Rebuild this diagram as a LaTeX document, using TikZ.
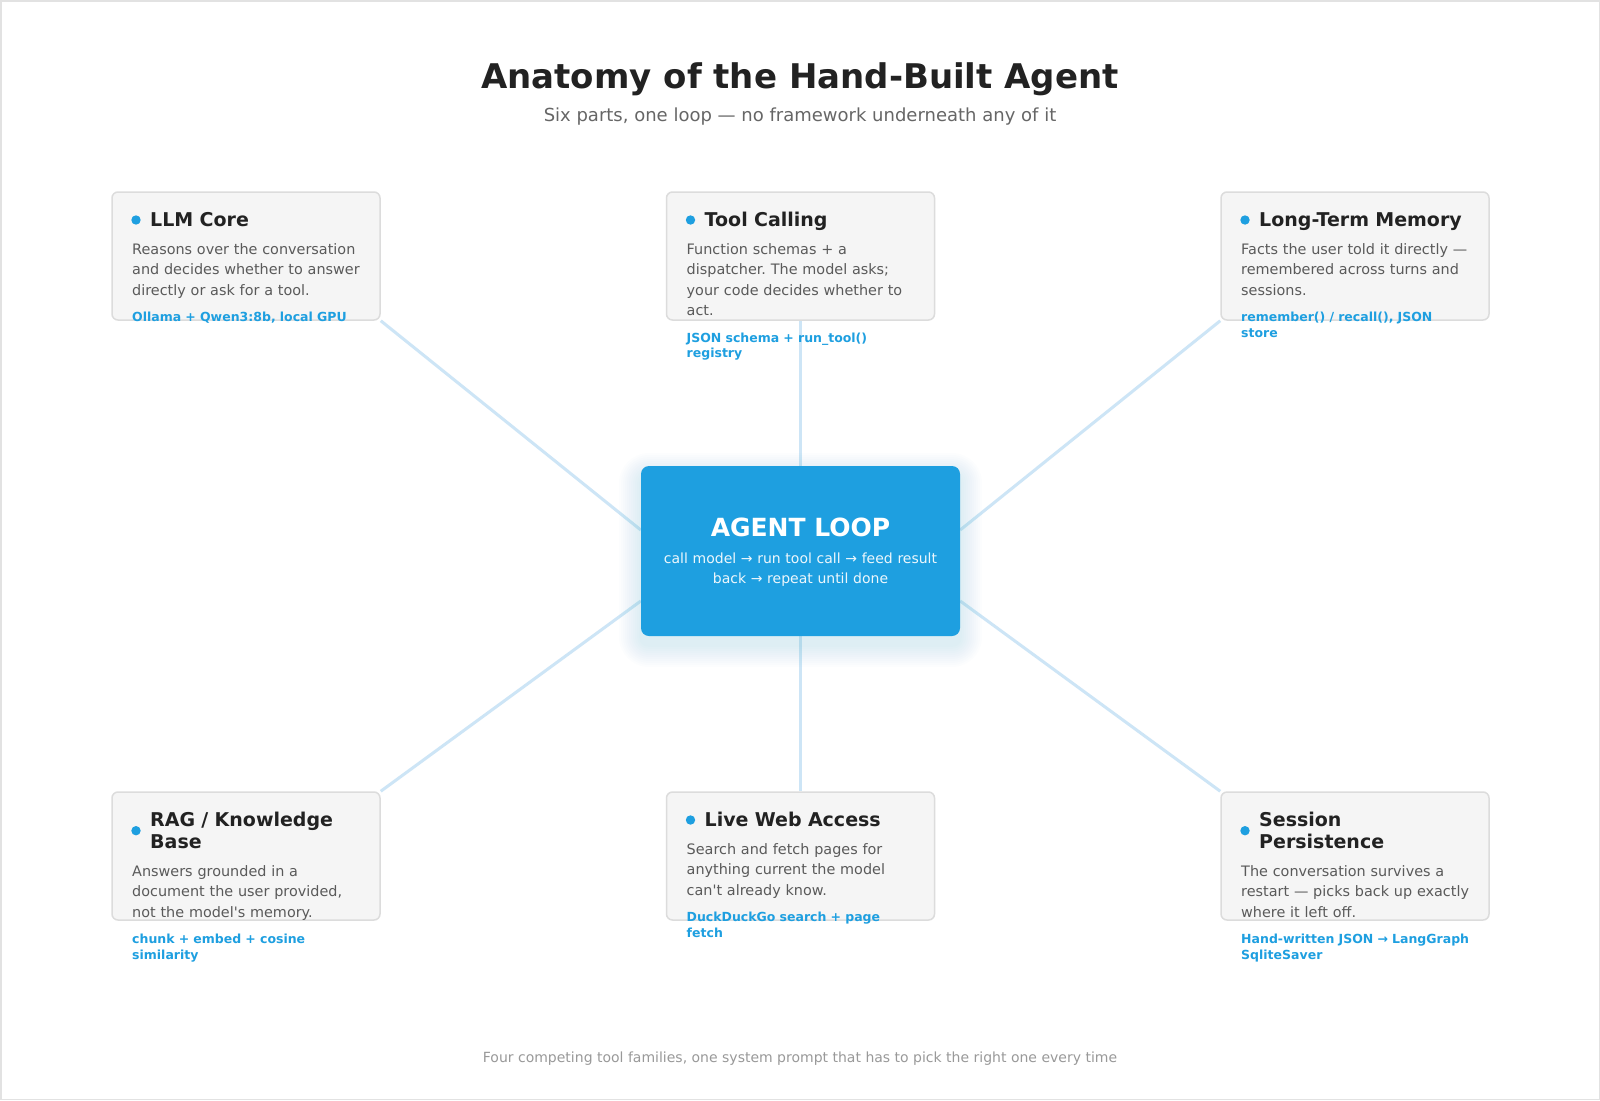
\documentclass[tikz,border=0pt]{standalone}
\usepackage{fontspec}
\setmainfont{DejaVu Sans}
\usepackage{xcolor}
\usetikzlibrary{backgrounds}
\frenchspacing

\definecolor{loopblue}{HTML}{1E9FE0}
\definecolor{linkblue}{HTML}{CDE5F6}
\definecolor{cardfill}{HTML}{F5F5F5}
\definecolor{cardline}{HTML}{DCDCDC}
\definecolor{framegray}{HTML}{E2E2E2}
\definecolor{inkgray}{HTML}{222222}
\definecolor{descgray}{HTML}{5A5A5A}
\definecolor{subgray}{HTML}{666666}
\definecolor{footgray}{HTML}{999999}

\begin{document}
\begin{tikzpicture}[x=1pt,y=-1pt]

\tikzset{card/.style={draw=cardline,line width=1.5pt,fill=cardfill,rounded corners=6pt,minimum width=268pt,minimum height=128pt,inner sep=0pt}}
\tikzset{dot/.style={circle,fill=loopblue,inner sep=0pt,minimum size=9.4pt}}
\tikzset{head/.style={anchor=base west,inner sep=0pt,text width=300pt,align=left,text=inkgray,font=\fontsize{19}{21.6}\selectfont\bfseries}}
\tikzset{desc/.style={anchor=base west,inner sep=0pt,text width=300pt,align=left,text=descgray,font=\fontsize{14.4}{20.5}\selectfont}}
\tikzset{tech/.style={anchor=base west,inner sep=0pt,text width=300pt,align=left,text=loopblue,font=\fontsize{12.5}{15.3}\selectfont\bfseries}}
\tikzset{core/.style={fill=loopblue,rounded corners=8pt,minimum width=319pt,minimum height=170pt,inner sep=0pt}}
\tikzset{link/.style={draw=linkblue,line width=3pt}}

\useasboundingbox (0,0) rectangle (1600,1100);
\draw[framegray,line width=1.5pt] (0.75,0.75) rectangle (1599.25,1099.25);

\node[anchor=base,text=inkgray,font=\fontsize{34}{40}\selectfont\bfseries] (title) at (800, 88.5) {Anatomy of the Hand-Built Agent};
\node[anchor=base,text=subgray,font=\fontsize{18}{22}\selectfont] (subtitle) at (800, 121) {Six parts, one loop — no framework underneath any of it};

% glow under the loop box
\foreach \g in {2,4,...,22}
  \fill[loopblue,opacity=0.012,rounded corners=8pt+\g pt] (641 - \g, 466 - \g + 9) rectangle (960 + \g, 636 + \g + 9);

\node[core] (core) at (800.5, 551) {};
\node[anchor=base,text=white,font=\fontsize{25}{30}\selectfont\bfseries] (core-head) at (800.5, 536.7) {AGENT LOOP};
\node[anchor=base,inner sep=0pt,text width=300pt,align=center,text=white!92!loopblue,font=\fontsize{14}{20}\selectfont] (core-desc) at (800.5, 563.3) {call model → run tool call → feed result\\back → repeat until done};

% top row
\node[card] (llm) at (246, 256) {};
\node[dot] (llm-dot) at (136, 220) {};
\node[head] (llm-head) at (150, 226.7) {LLM Core};
\node[desc] (llm-desc) at (132, 254) {Reasons over the conversation\\and decides whether to answer\\directly or ask for a tool.};
\node[tech] (llm-tech) at (132, 321.7) {Ollama + Qwen3:8b, local GPU};

\node[card] (tool) at (800.5, 256) {};
\node[dot] (tool-dot) at (690.5, 220) {};
\node[head] (tool-head) at (704.5, 226.7) {Tool Calling};
\node[desc] (tool-desc) at (686.5, 254) {Function schemas + a\\dispatcher. The model asks;\\your code decides whether to\\act.};
\node[tech] (tool-tech) at (686.5, 342.2) {JSON schema + run\_tool()\\registry};

\node[card] (memory) at (1355, 256) {};
\node[dot] (memory-dot) at (1245, 220) {};
\node[head] (memory-head) at (1259, 226.7) {Long-Term Memory};
\node[desc] (memory-desc) at (1241, 254) {Facts the user told it directly —\\remembered across turns and\\sessions.};
\node[tech] (memory-tech) at (1241, 321.7) {remember() / recall(), JSON\\store};

% bottom row
\node[card] (rag) at (246, 856) {};
\node[dot] (rag-dot) at (136, 830.7) {};
\node[head] (rag-head) at (150, 826.7) {RAG / Knowledge\\Base};
\node[desc] (rag-desc) at (132, 876) {Answers grounded in a\\document the user provided,\\not the model\textquotesingle s memory.};
\node[tech] (rag-tech) at (132, 943.7) {chunk + embed + cosine\\similarity};

\node[card] (web) at (800.5, 856) {};
\node[dot] (web-dot) at (690.5, 820) {};
\node[head] (web-head) at (704.5, 826.7) {Live Web Access};
\node[desc] (web-desc) at (686.5, 854) {Search and fetch pages for\\anything current the model\\can\textquotesingle t already know.};
\node[tech] (web-tech) at (686.5, 921.7) {DuckDuckGo search + page\\fetch};

\node[card] (session) at (1355, 856) {};
\node[dot] (session-dot) at (1245, 830.7) {};
\node[head] (session-head) at (1259, 826.7) {Session\\Persistence};
\node[desc] (session-desc) at (1241, 876) {The conversation survives a\\restart — picks back up exactly\\where it left off.};
\node[tech] (session-tech) at (1241, 943.7) {Hand-written JSON → LangGraph\\SqliteSaver};

\node[anchor=base,text=footgray,font=\fontsize{14}{17}\selectfont] (footer) at (800, 1062) {Four competing tool families, one system prompt that has to pick the right one every time};

\begin{pgfonlayer}{background}
\fill[white] (0,0) rectangle (1600,1100);
\path[link] (llm.south east) to ([yshift=21pt]core.west);
\path[link] (tool.south) to (core.north);
\path[link] (memory.south west) to ([yshift=21pt]core.east);
\path[link] (rag.north east) to ([yshift=-50pt]core.west);
\path[link] (web.north) to (core.south);
\path[link] (session.north west) to ([yshift=-50pt]core.east);
\end{pgfonlayer}

\end{tikzpicture}
\end{document}
